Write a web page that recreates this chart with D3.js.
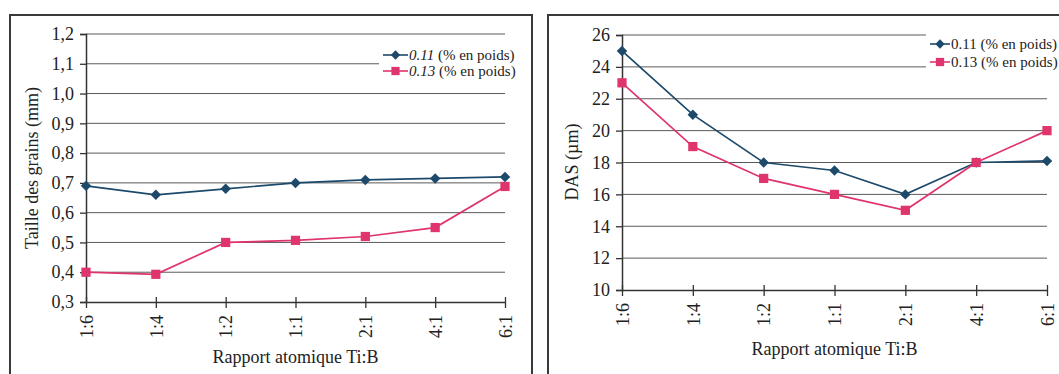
<!DOCTYPE html>
<html>
<head>
<meta charset="utf-8">
<script src="https://cdn.jsdelivr.net/npm/d3@7"></script>
<style>
  body { margin: 0; background: #fff; }
  svg text { font-family: "Liberation Serif", "DejaVu Serif", serif; }
</style>
</head>
<body>
<div id="chart"></div>
<script>
// categories (x axis) shared by both charts
const ratios = ["1:6", "1:4", "1:2", "1:1", "2:1", "4:1", "6:1"];
const seriesNames = ["0.11 (% en poids)", "0.13 (% en poids)"];

// left chart: grain size (mm)
const grainTicks = [0.3, 0.4, 0.5, 0.6, 0.7, 0.8, 0.9, 1.0, 1.1, 1.2];
const grain011 = [0.69, 0.66, 0.68, 0.70, 0.71, 0.715, 0.72];
const grain013 = [0.40, 0.393, 0.50, 0.507, 0.52, 0.55, 0.688];

// right chart: DAS (µm)
const dasTicks = [10, 12, 14, 16, 18, 20, 22, 24, 26];
const das011 = [25, 21, 18, 17.5, 16, 18, 18.1];
const das013 = [23, 19, 17, 16, 15, 18, 20];

const serif = "'Liberation Serif', 'DejaVu Serif', serif";

function init() {
    const svg = d3.select("#chart")
                  .append("svg")
                  .attr("width", 1059)
                  .attr("height", 374)
                  .attr("font-family", serif);

    const blue = "#1d4a6a";
    const pink = "#e0346c";

    // panel frames
    svg.append("rect").attr("x", 10).attr("y", 15).attr("width", 522).attr("height", 400)
       .attr("fill", "none").attr("stroke", "#3a3a3a").attr("stroke-width", 2);
    svg.append("rect").attr("x", 548).attr("y", 15).attr("width", 530).attr("height", 400)
       .attr("fill", "none").attr("stroke", "#3a3a3a").attr("stroke-width", 2);

    function drawChart(opts) {
        const g = svg.append("g");

        const x = d3.scalePoint()
                    .domain(ratios)
                    .range([opts.left, opts.right]);

        const y = d3.scaleLinear()
                    .domain(d3.extent(opts.ticks))
                    .range([opts.bottom, opts.top]);

        // gridlines
        g.selectAll(".grid")
         .data(opts.ticks.slice(1))
         .enter()
         .append("line")
         .attr("x1", opts.left)
         .attr("x2", opts.right)
         .attr("y1", d => y(d))
         .attr("y2", d => y(d))
         .attr("stroke", "#5a5a5a")
         .attr("stroke-width", 1);

        // y axis
        const yAxis = g.append("g")
                       .attr("transform", `translate(${opts.left},0)`)
                       .call(d3.axisLeft(y).tickValues(opts.ticks).tickSize(6).tickPadding(6)
                               .tickFormat(opts.fmt));
        yAxis.attr("font-family", serif).attr("font-size", 18);
        yAxis.select(".domain").attr("stroke", "#333").attr("stroke-width", 1.5);
        yAxis.selectAll(".tick line").attr("stroke", "#333").attr("stroke-width", 1.3);
        yAxis.selectAll("text").attr("fill", "#222");

        // x axis (ticks cross the axis line)
        const xAxis = g.append("g")
                       .attr("transform", `translate(0,${opts.bottom})`)
                       .call(d3.axisBottom(x).tickSizeInner(6).tickSizeOuter(0).tickPadding(8));
        xAxis.attr("font-family", serif).attr("font-size", 18);
        xAxis.select(".domain").attr("stroke", "#333").attr("stroke-width", 1.5);
        xAxis.selectAll(".tick line").attr("y1", -5).attr("stroke", "#333").attr("stroke-width", 1.3);
        xAxis.selectAll("text")
             .attr("fill", "#222")
             .attr("text-anchor", "end")
             .attr("dy", "0.35em")
             .attr("transform", "rotate(-90)")
             .attr("x", -13)
             .attr("y", 0);

        // axis titles
        g.append("text")
         .attr("text-anchor", "middle")
         .attr("x", (opts.left + opts.right) / 2)
         .attr("y", opts.xTitleY)
         .style("font-size", "18px")
         .attr("fill", "#222")
         .text("Rapport atomique Ti:B");

        g.append("text")
         .attr("text-anchor", "middle")
         .attr("transform", `translate(${opts.yTitleX},${opts.yTitleCy}) rotate(-90)`)
         .style("font-size", "18px")
         .attr("fill", "#222")
         .text(opts.yTitle);

        const line = d3.line()
                       .x((d, i) => x(ratios[i]))
                       .y(d => y(d));

        const series = [
            { name: seriesNames[0], values: opts.s1, color: blue, shape: d3.symbolDiamond2, size: 70 },
            { name: seriesNames[1], values: opts.s2, color: pink, shape: d3.symbolSquare, size: 85 }
        ];

        series.forEach(s => {
            g.append("path")
             .datum(s.values)
             .attr("d", line)
             .attr("fill", "none")
             .attr("stroke", s.color)
             .attr("stroke-width", 1.7);

            g.selectAll(null)
             .data(s.values)
             .enter()
             .append("path")
             .attr("transform", (d, i) => `translate(${x(ratios[i])},${y(d)})`)
             .attr("d", d3.symbol().type(s.shape).size(s.size))
             .attr("fill", s.color);
        });

        // legend on white box
        const legend = g.append("g").attr("transform", `translate(${opts.legX},${opts.legY})`);
        legend.append("rect")
              .attr("x", -4).attr("y", -14)
              .attr("width", opts.legW).attr("height", 40)
              .attr("fill", "#fff");

        series.forEach((s, i) => {
            const row = legend.append("g").attr("transform", `translate(0,${i * opts.legGap})`);
            row.append("line")
               .attr("x1", 0).attr("x2", opts.legLen)
               .attr("stroke", s.color).attr("stroke-width", 1.6);
            row.append("path")
               .attr("transform", `translate(${opts.legLen / 2},0)`)
               .attr("d", d3.symbol().type(s.shape).size(s.size * 0.8))
               .attr("fill", s.color);
            const t = row.append("text")
                         .attr("x", opts.legLen + 1)
                         .attr("dy", "0.35em")
                         .attr("font-family", serif)
                         .style("font-size", "15px")
                         .attr("fill", "#222");
            const parts = s.name.split(" (");
            t.append("tspan").style("font-style", opts.italic ? "italic" : "normal").text(parts[0]);
            t.append("tspan").text(" (" + parts[1]);
        });
    }

    drawChart({
        left: 86, right: 505, top: 34, bottom: 302,
        ticks: grainTicks, s1: grain011, s2: grain013,
        fmt: d => d3.format(".1f")(d).replace(".", ","),
        yTitle: "Taille des grains (mm)", yTitleX: 38, yTitleCy: 168,
        xTitleY: 363,
        legX: 383, legY: 55, legW: 132, legGap: 16, legLen: 25, italic: true
    });

    drawChart({
        left: 622, right: 1047, top: 35, bottom: 290,
        ticks: dasTicks, s1: das011, s2: das013,
        fmt: d3.format("d"),
        yTitle: "DAS (µm)", yTitleX: 578, yTitleCy: 162,
        xTitleY: 355,
        legX: 930, legY: 44, legW: 140, legGap: 18, legLen: 20, italic: false
    });
}
window.onload = init;
</script>
</body>
</html>
